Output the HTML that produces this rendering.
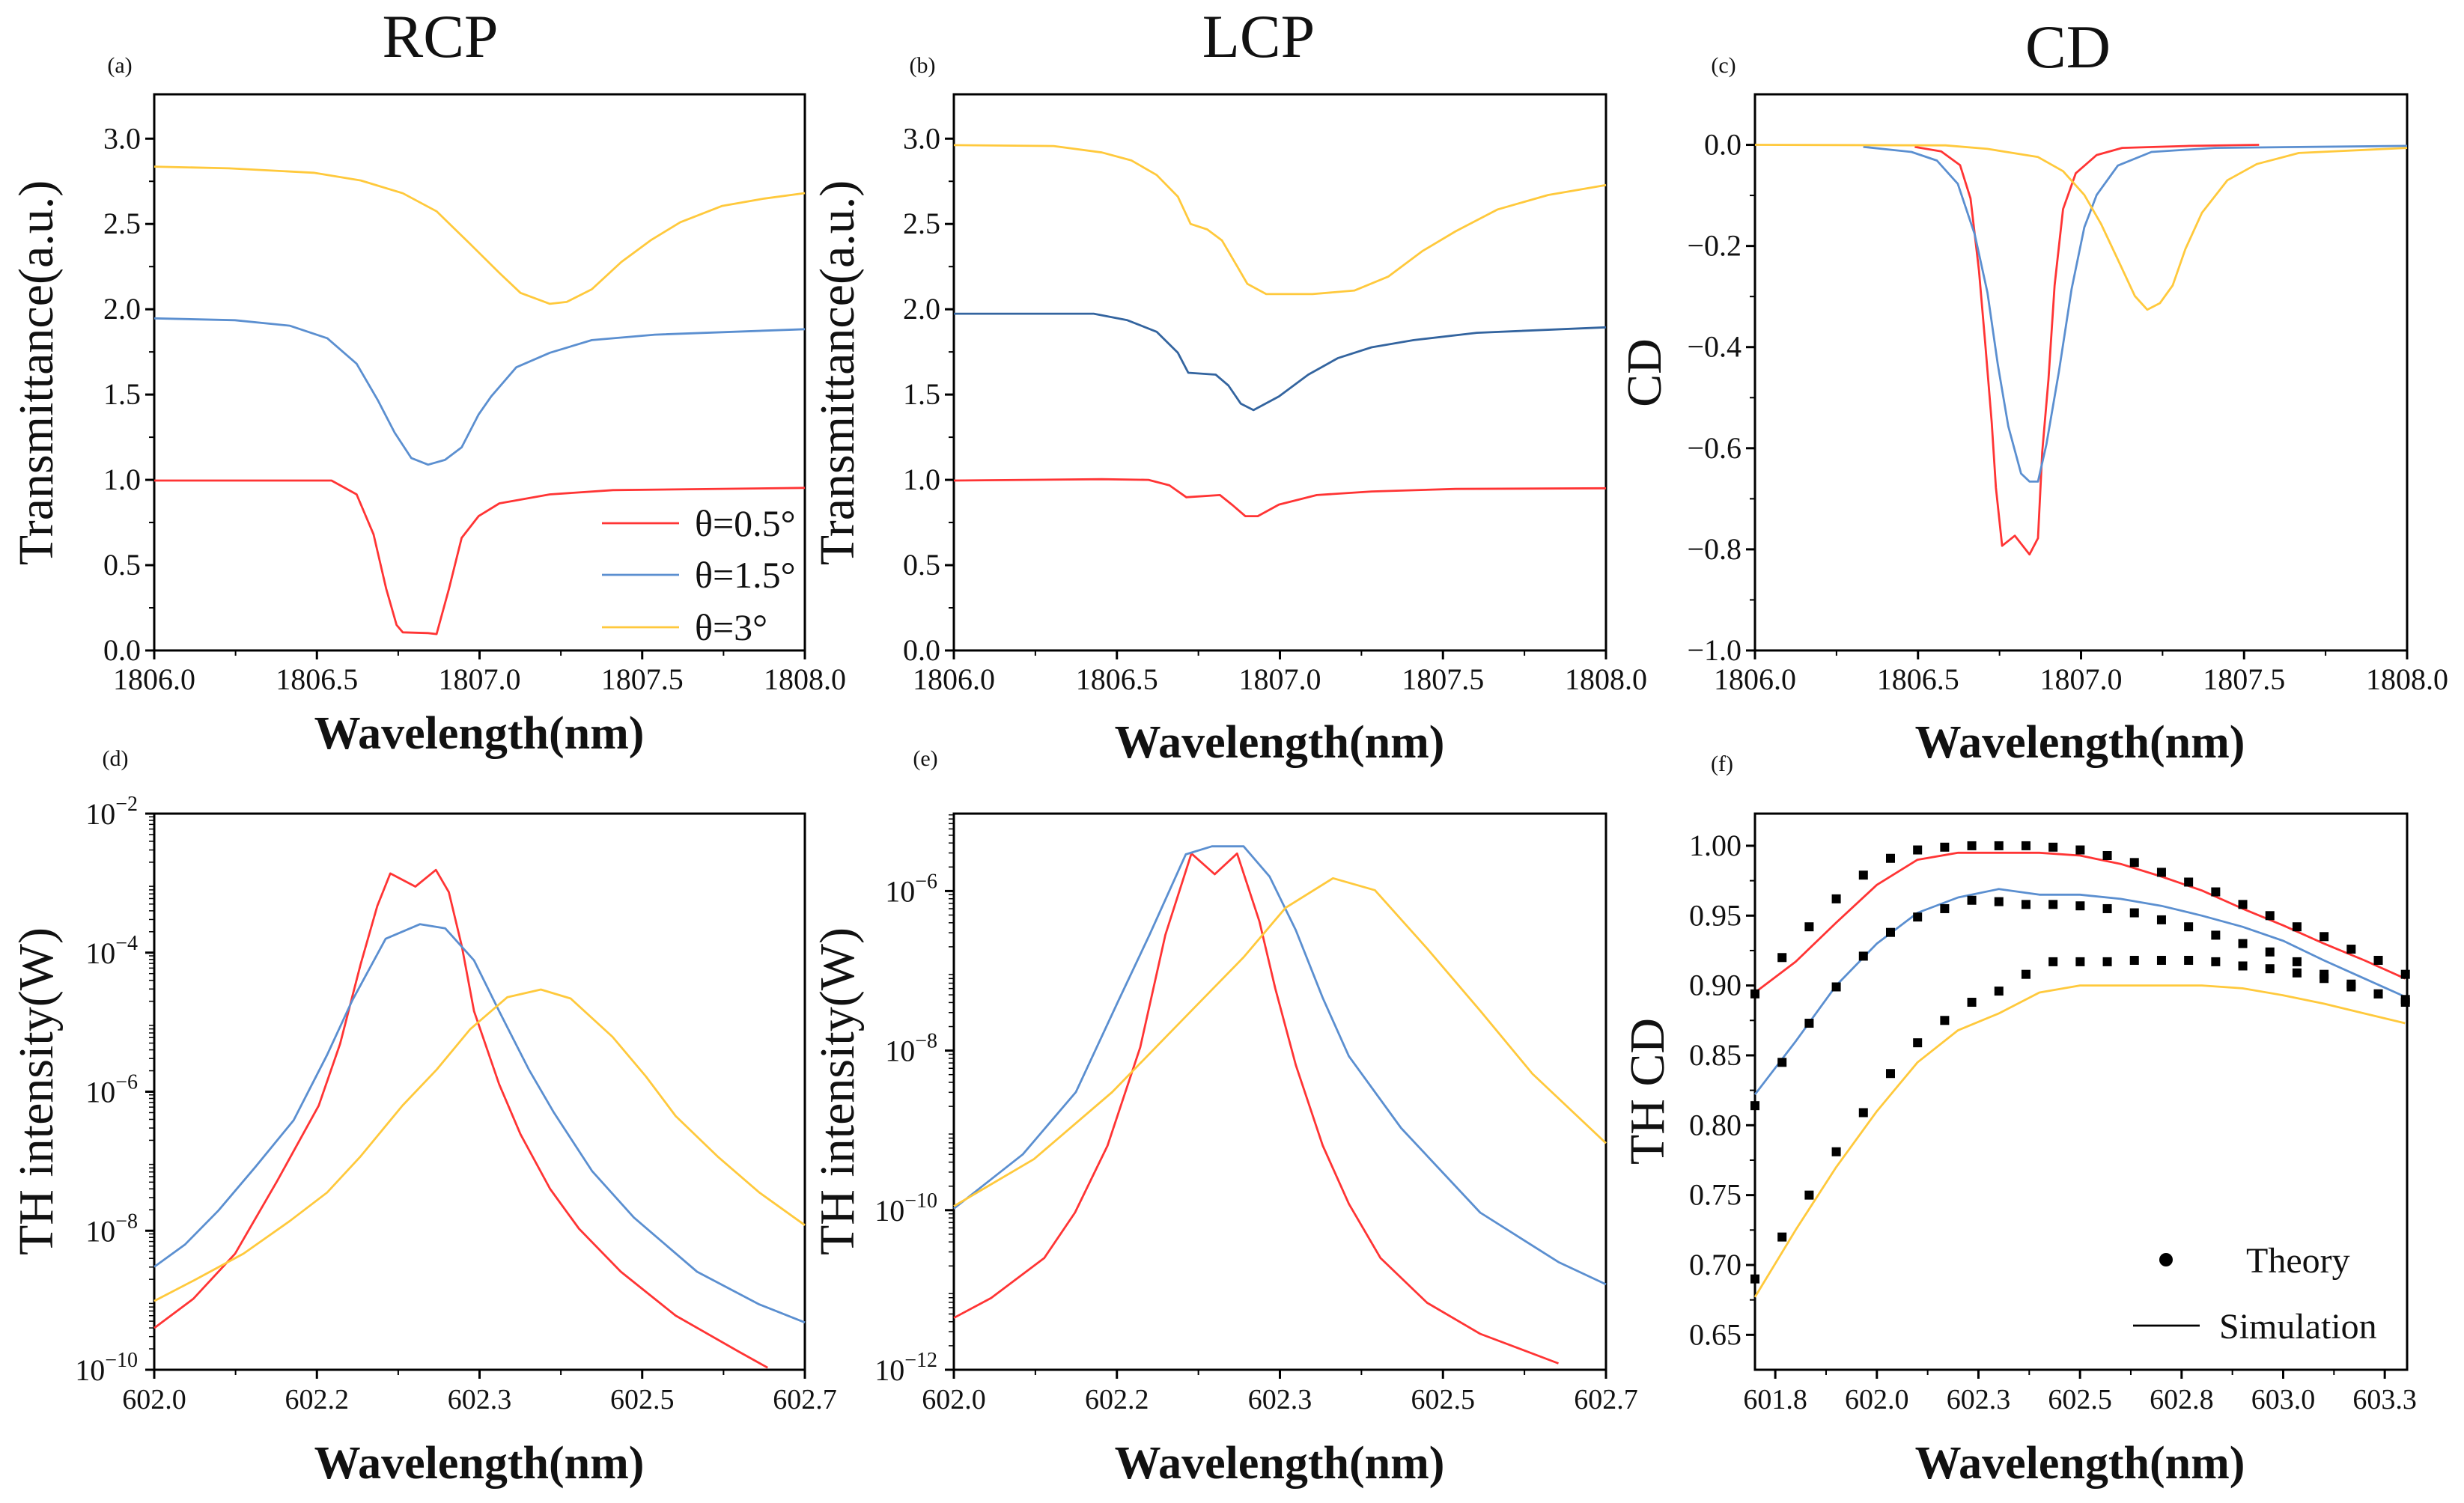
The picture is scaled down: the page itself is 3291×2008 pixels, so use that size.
<!DOCTYPE html>
<html><head><meta charset="utf-8"><style>
html,body{margin:0;padding:0;background:#fff}
svg{display:block}
text{font-family:"Liberation Serif",serif;fill:#111}
</style></head>
<body>
<svg id="fig" width="3291" height="2008" viewBox="0 0 3291 2008" xmlns="http://www.w3.org/2000/svg" font-family="Liberation Serif, serif"></svg>
<script>
// ---------- data ----------
const aRedX=[1806.0,1806.545,1806.622,1806.674,1806.713,1806.745,1806.764,1806.842,1806.868,1806.906,1806.945,1806.997,1807.061,1807.216,1807.41,1808.0];
const aRedY=[0.996,0.996,0.915,0.681,0.362,0.149,0.106,0.102,0.096,0.362,0.66,0.787,0.862,0.915,0.94,0.953];
const aBlueX=[1806.0,1806.248,1806.416,1806.532,1806.622,1806.687,1806.739,1806.79,1806.842,1806.894,1806.945,1806.997,1807.036,1807.113,1807.216,1807.345,1807.539,1808.0];
const aBlueY=[1.947,1.936,1.904,1.83,1.681,1.468,1.277,1.128,1.089,1.117,1.191,1.383,1.489,1.66,1.745,1.819,1.851,1.883];
const aYelX=[1806.0,1806.23,1806.49,1806.635,1806.764,1806.868,1806.971,1807.061,1807.126,1807.216,1807.268,1807.345,1807.436,1807.526,1807.617,1807.746,1807.875,1808.0];
const aYelY=[2.836,2.826,2.80,2.755,2.68,2.574,2.383,2.213,2.096,2.032,2.043,2.117,2.277,2.404,2.51,2.606,2.649,2.681];

const bRedX=[1806.0,1806.454,1806.597,1806.661,1806.713,1806.816,1806.855,1806.894,1806.932,1806.997,1807.113,1807.281,1807.539,1808.0];
const bRedY=[0.996,1.004,1.0,0.968,0.898,0.911,0.851,0.787,0.787,0.855,0.911,0.932,0.947,0.951];
const bBlueX=[1806.0,1806.429,1806.532,1806.622,1806.687,1806.719,1806.803,1806.842,1806.88,1806.919,1806.997,1807.087,1807.177,1807.281,1807.41,1807.604,1808.0];
const bBlueY=[1.974,1.974,1.936,1.868,1.745,1.628,1.617,1.553,1.447,1.409,1.489,1.617,1.713,1.777,1.819,1.862,1.894];
const bYelX=[1806.0,1806.306,1806.454,1806.545,1806.622,1806.687,1806.726,1806.777,1806.822,1806.868,1806.9,1806.958,1807.1,1807.229,1807.332,1807.436,1807.539,1807.668,1807.823,1808.0];
const bYelY=[2.962,2.957,2.919,2.872,2.787,2.66,2.5,2.468,2.404,2.255,2.149,2.089,2.089,2.11,2.191,2.34,2.457,2.585,2.67,2.728];

const cRedX=[1806.49,1806.571,1806.629,1806.661,1806.687,1806.706,1806.726,1806.739,1806.758,1806.797,1806.842,1806.868,1806.881,1806.9,1806.919,1806.945,1806.984,1807.048,1807.126,1807.332,1807.546];
const cRedY=[-0.004,-0.013,-0.04,-0.106,-0.249,-0.392,-0.549,-0.678,-0.793,-0.773,-0.81,-0.778,-0.607,-0.464,-0.278,-0.127,-0.056,-0.02,-0.006,-0.002,0];
const cBlueX=[1806.332,1806.48,1806.558,1806.622,1806.674,1806.713,1806.745,1806.777,1806.816,1806.842,1806.868,1806.894,1806.932,1806.971,1807.01,1807.048,1807.113,1807.216,1807.41,1808.0];
const cBlueY=[-0.004,-0.014,-0.031,-0.077,-0.177,-0.292,-0.435,-0.557,-0.65,-0.666,-0.666,-0.592,-0.449,-0.285,-0.163,-0.099,-0.041,-0.014,-0.006,-0.002];
const cYelX=[1806.0,1806.584,1806.713,1806.868,1806.945,1807.01,1807.061,1807.113,1807.165,1807.203,1807.242,1807.281,1807.32,1807.371,1807.449,1807.539,1807.668,1808.0];
const cYelY=[0,-0.001,-0.008,-0.024,-0.052,-0.099,-0.156,-0.227,-0.299,-0.326,-0.313,-0.278,-0.206,-0.134,-0.07,-0.038,-0.016,-0.006];

const dRedX=[602.0,602.042,602.087,602.132,602.177,602.2,602.222,602.24,602.254,602.281,602.303,602.317,602.331,602.344,602.371,602.394,602.426,602.457,602.502,602.561,602.629,602.66];
const dRedY=[-9.40,-8.98,-8.33,-7.29,-6.20,-5.31,-4.17,-3.33,-2.86,-3.05,-2.81,-3.13,-3.91,-4.84,-5.89,-6.61,-7.4,-7.97,-8.59,-9.22,-9.74,-9.97];
const dBlueX=[602.0,602.033,602.069,602.109,602.15,602.186,602.213,602.249,602.286,602.313,602.344,602.371,602.403,602.43,602.471,602.516,602.584,602.651,602.7];
const dBlueY=[-8.52,-8.2,-7.71,-7.08,-6.41,-5.47,-4.69,-3.8,-3.59,-3.65,-4.11,-4.84,-5.68,-6.3,-7.14,-7.81,-8.59,-9.06,-9.32];
const dYelX=[602.0,602.042,602.096,602.146,602.186,602.222,602.267,602.304,602.34,602.38,602.416,602.448,602.493,602.529,602.561,602.606,602.651,602.7];
const dYelY=[-9.01,-8.72,-8.33,-7.86,-7.45,-6.93,-6.2,-5.68,-5.1,-4.64,-4.53,-4.66,-5.21,-5.78,-6.35,-6.93,-7.45,-7.92];

const eRedX=[602.0,602.04,602.097,602.13,602.165,602.2,602.227,602.255,602.28,602.304,602.328,602.345,602.367,602.396,602.424,602.458,602.508,602.565,602.649];
const eRedY=[-11.35,-11.1,-10.6,-10.03,-9.19,-7.96,-6.55,-5.53,-5.79,-5.53,-6.38,-7.22,-8.18,-9.19,-9.92,-10.6,-11.16,-11.55,-11.92];
const eBlueX=[602.0,602.074,602.131,602.176,602.21,602.249,602.277,602.311,602.339,602.367,602.396,602.424,602.48,602.565,602.649,602.7];
const eBlueY=[-9.98,-9.3,-8.52,-7.39,-6.55,-5.54,-5.44,-5.44,-5.82,-6.49,-7.34,-8.07,-8.97,-10.03,-10.65,-10.93];
const eYelX=[602.0,602.086,602.17,602.255,602.311,602.356,602.407,602.452,602.508,602.565,602.621,602.7];
const eYelY=[-9.95,-9.36,-8.52,-7.5,-6.83,-6.21,-5.84,-5.99,-6.72,-7.5,-8.29,-9.16];

const fStart=601.70, fStep=0.0667;
const fTheoryTop=[0.894,0.92,0.942,0.962,0.979,0.991,0.997,0.999,1.0,1.0,1.0,0.999,0.997,0.993,0.988,0.981,0.974,0.967,0.958,0.950,0.942,0.935,0.926,0.918,0.908];
const fTheoryMid=[0.814,0.845,0.873,0.899,0.921,0.938,0.949,0.955,0.961,0.960,0.958,0.958,0.957,0.955,0.952,0.947,0.942,0.936,0.930,0.924,0.917,0.908,0.901,0.894,0.888];
const fTheoryLow=[0.690,0.720,0.750,0.781,0.809,0.837,0.859,0.875,0.888,0.896,0.908,0.917,0.917,0.917,0.918,0.918,0.918,0.917,0.914,0.912,0.909,0.905,0.899,0.894,0.890];
const fSimX=[601.70,601.80,601.90,602.00,602.10,602.20,602.30,602.40,602.50,602.60,602.70,602.80,602.90,603.00,603.10,603.20,603.30];
const fSimRed=[0.895,0.917,0.945,0.972,0.990,0.995,0.995,0.995,0.993,0.987,0.978,0.968,0.955,0.943,0.930,0.918,0.905];
const fSimBlue=[0.822,0.860,0.900,0.930,0.952,0.963,0.969,0.965,0.965,0.962,0.957,0.950,0.942,0.932,0.918,0.905,0.892];
const fSimYel=[0.677,0.725,0.770,0.810,0.845,0.868,0.880,0.895,0.900,0.900,0.900,0.900,0.898,0.893,0.887,0.880,0.873];

const fXTicks=[601.75,602.0,602.25,602.5,602.75,603.0,603.25];
const fXLabels=['601.8','602.0','602.3','602.5','602.8','603.0','603.3'];
const fYTicks=[0.65,0.70,0.75,0.80,0.85,0.90,0.95,1.00];
const tXTicks=[1806.0,1806.5,1807.0,1807.5,1808.0];
const tYTicks=[0,0.5,1.0,1.5,2.0,2.5,3.0];
const cYTicks=[0,-0.2,-0.4,-0.6,-0.8,-1.0];
const lXTicks=[602.0,602.175,602.35,602.525,602.7];
const lXLabels=['602.0','602.2','602.3','602.5','602.7'];
const dDecades=[-10,-8,-6,-4,-2];
const eDecades=[-12,-10,-8,-6];

// ---------- drawing ----------
const NS='http://www.w3.org/2000/svg';
const svg=document.getElementById('fig');
const RED='#ff3434',BLUE='#5b8fd0',BLUE2='#33649f',YEL='#ffc93c';
const SERIF='Liberation Serif, serif', SANS='Liberation Sans, sans-serif';
function mk(tag,attrs,parent){const e=document.createElementNS(NS,tag);for(const k in attrs)e.setAttribute(k,attrs[k]);(parent||svg).appendChild(e);return e;}
function txt(s,x,y,size,anchor,parent,fam){const t=mk('text',{x:x,y:y,'font-size':size,'text-anchor':anchor||'middle','font-family':fam||SERIF},parent);t.textContent=s;return t;}

function panel(name,L,R,T,B,x0,x1,y0,y1){
  const g=mk('g',{});
  
  
  const sx=v=>L+(v-x0)/(x1-x0)*(R-L);
  const sy=v=>B-(v-y0)/(y1-y0)*(B-T);
  const box=mk('rect',{x:L,y:T,width:R-L,height:B-T,fill:'none',stroke:'#000','stroke-width':3},g);
  
  
  return {g,sx,sy,L,R,T,B};
}
function series(p,xs,ys,color,name){
  let d='';for(let i=0;i<xs.length;i++){d+=(i?'L':'M')+p.sx(xs[i]).toFixed(1)+' '+p.sy(ys[i]).toFixed(1);}
  const path=mk('path',{d:d,fill:'none',stroke:color,'stroke-width':2.8,'stroke-linejoin':'round'},p.g);
  
  
}
function xticks(p,vals,labels,minor,size,fam){
  vals.forEach((v,i)=>{const x=p.sx(v);
    const t=mk('line',{x1:x,x2:x,y1:p.B,y2:p.B+12,stroke:'#000','stroke-width':3},p.g);
    
    
    const l=txt(labels[i],x,p.B+52,size||40,'middle',p.g,fam);
    
    
    if(minor&&i<vals.length-1){const xm=p.sx((v+vals[i+1])/2);
      const m=mk('line',{x1:xm,x2:xm,y1:p.B,y2:p.B+7,stroke:'#000','stroke-width':2},p.g);
      
      }
  });
}
function yticks(p,vals,labels,minor){
  vals.forEach((v,i)=>{const y=p.sy(v);
    const t=mk('line',{x1:p.L-12,x2:p.L,y1:y,y2:y,stroke:'#000','stroke-width':3},p.g);
    
    
    const l=txt(labels[i],p.L-18,y+13,40,'end',p.g);
    
    
    if(minor&&i<vals.length-1){const ym=p.sy((v+vals[i+1])/2);
      const m=mk('line',{x1:p.L-7,x2:p.L,y1:ym,y2:ym,stroke:'#000','stroke-width':2},p.g);
      
      }
  });
}
function logticks(p,decades,lo,hi){
  decades.forEach(dv=>{const y=p.sy(dv);
    const t=mk('line',{x1:p.L-12,x2:p.L,y1:y,y2:y,stroke:'#000','stroke-width':3},p.g);
    
    
    const l=mk('text',{x:p.L-22,y:y+14,'font-size':40,'text-anchor':'end','font-family':SERIF},p.g);
    
    
    l.textContent='10';
    const s=mk('tspan',{dy:-18,'font-size':28},l);s.textContent='\u2212'+(-dv);
  });
  for(let d=Math.floor(lo);d<hi;d++){for(let k=2;k<10;k++){const v=d+Math.log10(k);if(v>hi)break;const y=p.sy(v);
    const m=mk('line',{x1:p.L-7,x2:p.L,y1:y,y2:y,stroke:'#000','stroke-width':1.5},p.g);
    
    }}
}
function label(s,x,y,size,name,rot,extra){
  const t=txt(s,x,y,size,'middle');
  if(rot)t.setAttribute('transform','rotate(-90 '+x+' '+y+')');
  if(extra)t.setAttribute('font-weight',extra);
  
  
  return t;
}
const fmt1=v=>v.toFixed(1);
const fmtC=v=>(v<0?'\u2212':'')+Math.abs(v).toFixed(1);

// Titles
label('RCP',588,76,82,'title-rcp');
label('LCP',1681,76,82,'title-lcp');
label('CD',2762,90,82,'title-cd');

// (a)
const pa=panel('panel-a-rcp',206,1075,126,869,1806,1808,0,3.26);
xticks(pa,tXTicks,tXTicks.map(fmt1),true);
yticks(pa,tYTicks,tYTicks.map(fmt1),true);
series(pa,aRedX,aRedY,RED,'rcp-theta-0.5');
series(pa,aBlueX,aBlueY,BLUE,'rcp-theta-1.5');
series(pa,aYelX,aYelY,YEL,'rcp-theta-3');
label('(a)',160,97,30,'panel-label-a');
label('Transmittance(a.u.)',70,498,66,'y-axis-title-a',true);
label('Wavelength(nm)',640,1000,62,'x-axis-title-a',false,'bold');
[['θ=0.5°',RED,699],['θ=1.5°',BLUE,768],['θ=3°',YEL,838]].forEach(e=>{
  const ln=mk('line',{x1:804,x2:907,y1:e[2],y2:e[2],stroke:e[1],'stroke-width':2.8});
  
  
  const t=txt(e[0],928,e[2]+17,50,'start');
  
  
});

// (b)
const pb=panel('panel-b-lcp',1274,2145,126,869,1806,1808,0,3.26);
xticks(pb,tXTicks,tXTicks.map(fmt1),true);
yticks(pb,tYTicks,tYTicks.map(fmt1),true);
series(pb,bRedX,bRedY,RED,'lcp-theta-0.5');
series(pb,bBlueX,bBlueY,BLUE2,'lcp-theta-1.5');
series(pb,bYelX,bYelY,YEL,'lcp-theta-3');
label('(b)',1232,97,30,'panel-label-b');
label('Transmittance(a.u.)',1140,498,66,'y-axis-title-b',true);
label('Wavelength(nm)',1709,1012,62,'x-axis-title-b',false,'bold');

// (c)
const pc=panel('panel-c-cd',2344,3215,126,869,1806,1808,-1.0,0.1);
xticks(pc,tXTicks,tXTicks.map(fmt1),true);
yticks(pc,cYTicks,cYTicks.map(fmtC),true);
series(pc,cRedX,cRedY,RED,'cd-theta-0.5');
series(pc,cBlueX,cBlueY,BLUE,'cd-theta-1.5');
series(pc,cYelX,cYelY,YEL,'cd-theta-3');
label('(c)',2302,97,30,'panel-label-c');
label('CD',2218,498,66,'y-axis-title-c',true);
label('Wavelength(nm)',2778,1012,62,'x-axis-title-c',false,'bold');

// (d)
const pd=panel('panel-d-th-rcp',206,1075,1087,1830,602.0,602.7,-10,-2);
xticks(pd,lXTicks,lXLabels,true,38,SANS);
logticks(pd,dDecades,-10,-2);
series(pd,dRedX,dRedY,RED,'th-rcp-theta-0.5');
series(pd,dBlueX,dBlueY,BLUE,'th-rcp-theta-1.5');
series(pd,dYelX,dYelY,YEL,'th-rcp-theta-3');
label('(d)',154,1023,30,'panel-label-d');
label('TH intensity(W)',70,1458,66,'y-axis-title-d',true);
label('Wavelength(nm)',640,1975,62,'x-axis-title-d',false,'bold');

// (e)
const pe=panel('panel-e-th-lcp',1274,2145,1087,1830,602.0,602.7,-12,-5.03);
xticks(pe,lXTicks,lXLabels,true,38,SANS);
logticks(pe,eDecades,-12,-5.03);
series(pe,eRedX,eRedY,RED,'th-lcp-theta-0.5');
series(pe,eBlueX,eBlueY,BLUE,'th-lcp-theta-1.5');
series(pe,eYelX,eYelY,YEL,'th-lcp-theta-3');
label('(e)',1236,1023,30,'panel-label-e');
label('TH intensity(W)',1140,1458,66,'y-axis-title-e',true);
label('Wavelength(nm)',1709,1975,62,'x-axis-title-e',false,'bold');

// (f)
const pf=panel('panel-f-th-cd',2344,3215,1087,1830,601.70,603.305,0.625,1.023);
xticks(pf,fXTicks,fXLabels,true,38,SANS);
yticks(pf,fYTicks,fYTicks.map(v=>v.toFixed(2)),true);
series(pf,fSimX,fSimRed,RED,'sim-theta-0.5');
series(pf,fSimX,fSimBlue,BLUE,'sim-theta-1.5');
series(pf,fSimX,fSimYel,YEL,'sim-theta-3');
[fTheoryTop,fTheoryMid,fTheoryLow].forEach(arr=>{arr.forEach((v,i)=>{
  const x=pf.sx(fStart+i*fStep),y=pf.sy(v);
  if(x>pf.R+2)return;
  const r=mk('rect',{x:x-6,y:y-6,width:12,height:12,fill:'#000'},pf.g);
  
  
});});
label('(f)',2300,1030,30,'panel-label-f');
label('TH CD',2222,1458,66,'y-axis-title-f',true);
label('Wavelength(nm)',2778,1975,62,'x-axis-title-f',false,'bold');
const ld=mk('circle',{cx:2893,cy:1683,r:9,fill:'#000'});


const lt=txt('Theory',3000,1700,48,'start',null,SANS);


const ll=mk('line',{x1:2849,x2:2938,y1:1771,y2:1771,stroke:'#000','stroke-width':2.8});


const ls=txt('Simulation',2964,1788,48,'start',null,SANS);


</script>
</body></html>
